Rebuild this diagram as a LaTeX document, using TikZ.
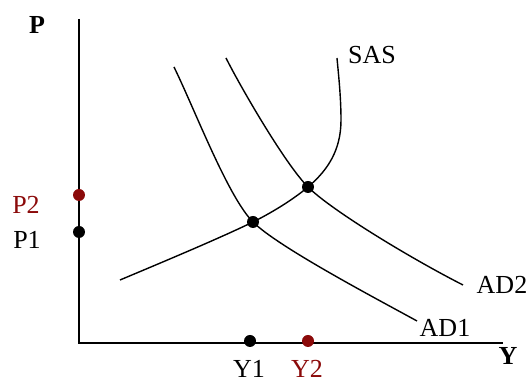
\documentclass[tikz,border=0pt]{standalone}
\usepackage{fontspec}
\setmainfont{Liberation Serif}
\usetikzlibrary{calc}
\definecolor{dkred}{HTML}{8B0A0A}

\begin{document}
\begin{tikzpicture}[
  x=0.5pt, y=-0.5pt,
  axis/.style={black, line width=1pt},
  curve/.style={black, line width=0.7pt},
  lbl/.style={font=\fontsize{13}{15}\selectfont, inner sep=1pt},
  blbl/.style={lbl, font=\fontsize{13}{15}\selectfont\bfseries},
  dot/.style={circle, fill=black, inner sep=0pt, minimum size=6pt},
  rdot/.style={dot, fill=dkred},
]
\useasboundingbox (0,0) rectangle (531,383);

% ══════════════════════════════════════════════════════
% Axes
% ══════════════════════════════════════════════════════
\coordinate (org) at (79,343);
\coordinate (ptop) at (79,19);
\coordinate (yend) at (503,343);
\draw[axis] (ptop) -- (org) -- (yend);
\node[blbl] (Plbl) at (37,25) {P};
\node[blbl] (Ylbl) at (508,356) {Y};

% ══════════════════════════════════════════════════════
% Curves (pixel coordinates, y downwards)
% ══════════════════════════════════════════════════════
\coordinate (e1) at (253,222);
\coordinate (e2) at (308,187);

% SAS
\draw[curve] (120,280) .. controls (170,259) and (220,238) .. (e1)
  .. controls (275,211) and (295,198) .. (e2)
  .. controls (328,170) and (341,150) .. (341,120)
  .. controls (341,95) and (338,70) .. (337,58);
% AD1
\draw[curve] (174,67) .. controls (195,110) and (228,197) .. (e1)
  .. controls (278,247) and (377,299) .. (417,321);
% AD2
\draw[curve] (226,58) .. controls (240,86) and (285,164) .. (e2)
  .. controls (331,210) and (410,258) .. (463,285);

\node[lbl] (SAS) at (372,55) {SAS};
\node[lbl] (AD1) at (445,328) {AD1};
\node[lbl] (AD2) at (502,285) {AD2};

% ══════════════════════════════════════════════════════
% Equilibria and levels
% ══════════════════════════════════════════════════════
\node[dot] (E1) at (e1) {};
\node[dot] (E2) at (e2) {};
\node[dot] (p1) at (79,232) {};
\node[rdot] (p2) at (79,195) {};
\node[dot] (y1) at (250,341) {};
\node[rdot] (y2) at (308,341) {};

\node[lbl] (P1) at (27,240) {P1};
\node[lbl, dkred] (P2) at (26,205) {P2};
\node[lbl] (Y1) at (249,369) {Y1};
\node[lbl, dkred] (Y2) at (307,369) {Y2};

\end{tikzpicture}
\end{document}
